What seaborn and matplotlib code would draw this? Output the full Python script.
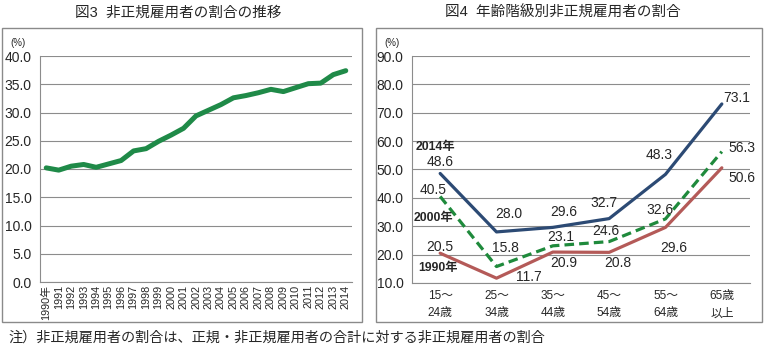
import numpy as np
import pandas as pd
import matplotlib
matplotlib.use("Agg")
import matplotlib.pyplot as plt
import seaborn as sns
from matplotlib.patches import Rectangle
from matplotlib.ticker import FixedLocator, NullFormatter

# ------------------ DATOS ------------------
years = list(range(1990, 2015))
ratio = [20.2, 19.8, 20.5, 20.8, 20.3, 20.9, 21.5, 23.2, 23.6, 24.9, 26.0, 27.2, 29.4,
         30.4, 31.4, 32.6, 33.0, 33.5, 34.1, 33.7, 34.4, 35.1, 35.2, 36.7, 37.4]
year_labels = ["1990年"] + [str(y) for y in years[1:]]

age_labels = ["15～\n24歳", "25～\n34歳", "35～\n44歳", "45～\n54歳", "55～\n64歳", "65歳\n以上"]
v2014 = [48.6, 28.0, 29.6, 32.7, 48.3, 73.1]
v2000 = [40.5, 15.8, 23.1, 24.6, 32.6, 56.3]
v1990 = [20.5, 11.7, 20.9, 20.8, 29.6, 50.6]

# desplazamientos de las etiquetas (pixeles)
off2014 = [(0, 11), (12, 18), (11, 15), (-5, 16), (-6, 19), (15, 6)]
off2000 = [(-7, 6), (9, 19), (8, 9), (-3, 11), (-6, 9), (20, 4)]
off1990 = [(0, 6), (32, 1), (11, -11), (9, -11), (8, -21), (20, -10)]

# ------------------ ESTILO ------------------
sns.set_style("white")
plt.rcParams["font.family"] = ["Liberation Sans", "Noto Sans CJK JP"]

fig = plt.figure(figsize=(7.7, 3.5), dpi=100)
W, H = 770, 350


def px_axes(x0, y0, x1, y1):
    return fig.add_axes([x0 / W, 1 - y1 / H, (x1 - x0) / W, (y1 - y0) / H])


grid_c = "#8c8c8c"

# marcos de los paneles
for (x0, y0, x1, y1) in [(2, 28, 362, 322), (376, 28, 762, 322)]:
    fig.patches.append(Rectangle((x0 / W, 1 - y1 / H), (x1 - x0) / W, (y1 - y0) / H,
                                 transform=fig.transFigure, fill=False,
                                 edgecolor="#8a8a8a", linewidth=1.0))


def style_axes(ax, n):
    ax.set_xlim(-0.5, n - 0.5)
    ax.xaxis.set_major_locator(FixedLocator(np.arange(-0.5, n, 1.0)))
    ax.xaxis.set_major_formatter(NullFormatter())
    ax.xaxis.set_minor_locator(FixedLocator(np.arange(n)))
    ax.tick_params(axis="x", which="major", direction="out", length=4, color=grid_c, width=0.8)
    ax.tick_params(axis="x", which="minor", length=0)
    ax.tick_params(axis="y", direction="out", length=4, color=grid_c, width=0.8,
                   labelsize=10, pad=2)
    ax.grid(axis="y", color=grid_c, linewidth=0.8)
    ax.set_axisbelow(True)
    for s in ["top", "right"]:
        ax.spines[s].set_visible(False)
    for s in ["left", "bottom"]:
        ax.spines[s].set_color(grid_c)
        ax.spines[s].set_linewidth(0.8)
    ax.set_xlabel("")
    ax.set_ylabel("")


# ------------------ GRAFICO 1 ------------------
ax1 = px_axes(40, 56, 352, 282)
df1 = pd.DataFrame({"x": np.arange(len(years)), "ratio": ratio})
sns.lineplot(data=df1, x="x", y="ratio", ax=ax1, color="#1f8a48", linewidth=3.6)
style_axes(ax1, len(years))
ax1.set_ylim(0, 40)
ax1.set_yticks(np.arange(0, 41, 5))
ax1.set_yticklabels([f"{v:.1f}" for v in np.arange(0, 41, 5)])
ax1.set_xticks(np.arange(len(years)), minor=True)
ax1.set_xticklabels(year_labels, minor=True, rotation=90, fontsize=7.8, va="top")
ax1.tick_params(axis="x", which="minor", pad=2)
fig.text(10 / W, 1 - 43 / H, "(%)", fontsize=7, va="center")
fig.text(178 / W, 1 - 13 / H, "図3  非正規雇用者の割合の推移", fontsize=10.5, ha="center", va="center")

# ------------------ GRAFICO 2 ------------------
ax2 = px_axes(412, 56, 750, 283)
df2 = pd.DataFrame({"x": list(range(6)) * 3,
                    "val": v2014 + v2000 + v1990,
                    "year": ["2014"] * 6 + ["2000"] * 6 + ["1990"] * 6})
colors = {"2014": "#2c4a74", "2000": "#1f8a3c", "1990": "#b45a58"}
sns.lineplot(data=df2, x="x", y="val", hue="year", style="year", palette=colors,
             dashes={"2014": "", "2000": (3, 1.6), "1990": ""},
             linewidth=2.3, ax=ax2, legend=False)
style_axes(ax2, 6)
ax2.set_ylim(10, 90)
ax2.set_yticks(np.arange(10, 91, 10))
ax2.set_yticklabels([f"{v:.1f}" for v in np.arange(10, 91, 10)])
ax2.set_xticks(np.arange(6), minor=True)
ax2.set_xticklabels(age_labels, minor=True, fontsize=8.5, linespacing=1.6)
ax2.tick_params(axis="x", which="minor", pad=5)

for vals, offs in [(v2014, off2014), (v2000, off2000), (v1990, off1990)]:
    for i, (v, o) in enumerate(zip(vals, offs)):
        ax2.annotate(f"{v:.1f}", (i, v), xytext=o, textcoords="offset pixels",
                     ha="center", va="center", fontsize=10)

for txt, (x, y) in [("2014年", (416, 147)), ("2000年", (414, 218)), ("1990年", (418, 268))]:
    fig.text(x / W, 1 - y / H, txt, fontsize=8.8, fontweight="bold", va="center")

fig.text(384 / W, 1 - 43 / H, "(%)", fontsize=7, va="center")
fig.text(563 / W, 1 - 13 / H, "図4  年齢階級別非正規雇用者の割合", fontsize=10.5, ha="center", va="center")

# ------------------ NOTA ------------------
fig.text(8 / W, 1 - 338 / H, "注）非正規雇用者の割合は、正規・非正規雇用者の合計に対する非正規雇用者の割合",
         fontsize=10.2, va="center")

fig.savefig("out.png", dpi=100)
plt.close(fig)
